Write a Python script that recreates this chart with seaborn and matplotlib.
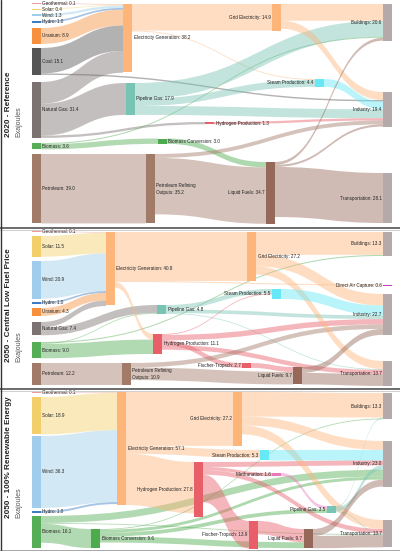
import matplotlib.pyplot as plt
from matplotlib.path import Path
from matplotlib.patches import PathPatch, Rectangle
import seaborn as sns

sns.set_style("white")
plt.rcParams['font.family'] = ['Liberation Sans', 'DejaVu Sans']

# ============================================
# DATA (exajoules)
# ============================================

# --- 2020 Reference ---
ref_nodes = ["Geothermal", "Solar", "Wind", "Hydro", "Uranium", "Coal", "Natural Gas",
             "Biomass", "Petroleum", "Electricity Generation", "Pipeline Gas",
             "Biomass Conversion", "Petroleum Refining", "Hydrogen Production",
             "Grid Electricity", "Steam Production", "Liquid Fuels",
             "Buildings", "Industry", "Transportation"]
ref_values = [0.1, 0.4, 1.3, 1.0, 8.9, 15.1, 31.4, 3.6, 39.0, 38.2, 17.9, 3.0, 35.2,
              1.3, 14.9, 4.4, 34.7, 20.6, 19.4, 28.1]
ref_src = ["Geothermal", "Solar", "Wind", "Hydro", "Uranium", "Coal", "Coal",
           "Natural Gas", "Natural Gas", "Natural Gas", "Biomass", "Biomass", "Petroleum",
           "Electricity Generation", "Electricity Generation", "Pipeline Gas", "Pipeline Gas",
           "Pipeline Gas", "Biomass Conversion", "Petroleum Refining", "Petroleum Refining",
           "Hydrogen Production", "Grid Electricity", "Grid Electricity", "Steam Production",
           "Liquid Fuels", "Liquid Fuels", "Liquid Fuels"]
ref_tgt = ["Electricity Generation", "Electricity Generation", "Electricity Generation",
           "Electricity Generation", "Electricity Generation", "Electricity Generation",
           "Industry", "Electricity Generation", "Pipeline Gas", "Hydrogen Production",
           "Biomass Conversion", "Buildings", "Petroleum Refining", "Grid Electricity",
           "Steam Production", "Buildings", "Steam Production", "Industry", "Liquid Fuels",
           "Liquid Fuels", "Industry", "Industry", "Buildings", "Industry", "Industry",
           "Buildings", "Industry", "Transportation"]
ref_flow = [0.1, 0.4, 1.3, 1.0, 8.9, 14.3, 0.8, 12.2, 17.9, 1.3, 3.0, 0.6, 39.0, 14.9,
            0.5, 9.0, 3.9, 5.0, 3.0, 31.7, 2.2, 1.3, 9.4, 4.5, 4.4, 1.6, 1.2, 28.1]

# --- 2050 Central Low Fuel Price ---
low_nodes = ["Geothermal", "Solar", "Wind", "Hydro", "Uranium", "Natural Gas", "Biomass",
             "Petroleum", "Electricity Generation", "Pipeline Gas", "Hydrogen Production",
             "Petroleum Refining", "Grid Electricity", "Steam Production", "Fischer-Tropsch",
             "Liquid Fuels", "Buildings", "Direct Air Capture", "Industry", "Transportation"]
low_values = [0.1, 11.5, 20.9, 1.0, 4.3, 7.4, 9.0, 12.2, 40.8, 4.8, 11.1, 10.9, 27.2,
              5.5, 2.7, 9.7, 13.3, 0.6, 22.7, 13.7]
low_src = ["Geothermal", "Solar", "Wind", "Hydro", "Uranium", "Natural Gas", "Natural Gas",
           "Biomass", "Biomass", "Biomass", "Petroleum", "Electricity Generation",
           "Electricity Generation", "Electricity Generation", "Pipeline Gas", "Pipeline Gas",
           "Pipeline Gas", "Hydrogen Production", "Hydrogen Production", "Hydrogen Production",
           "Hydrogen Production", "Petroleum Refining", "Petroleum Refining",
           "Grid Electricity", "Grid Electricity", "Grid Electricity", "Steam Production",
           "Fischer-Tropsch", "Liquid Fuels", "Liquid Fuels"]
low_tgt = ["Electricity Generation", "Electricity Generation", "Electricity Generation",
           "Electricity Generation", "Electricity Generation", "Electricity Generation",
           "Pipeline Gas", "Hydrogen Production", "Pipeline Gas", "Buildings",
           "Petroleum Refining", "Grid Electricity", "Direct Air Capture",
           "Hydrogen Production", "Steam Production", "Industry", "Transportation",
           "Steam Production", "Industry", "Fischer-Tropsch", "Transportation",
           "Liquid Fuels", "Industry", "Buildings", "Industry", "Transportation", "Industry",
           "Liquid Fuels", "Industry", "Transportation"]
low_flow = [0.1, 11.5, 20.9, 1.0, 4.3, 3.0, 4.4, 8.0, 0.4, 0.6, 12.2, 27.2, 0.6, 3.1,
            2.5, 2.0, 0.3, 0.5, 3.0, 2.7, 2.5, 7.0, 2.5, 12.7, 6.4, 4.5, 5.5, 2.7, 3.3, 6.4]

# --- 2050 100% Renewable Energy ---
ren_nodes = ["Geothermal", "Solar", "Wind", "Hydro", "Biomass", "Electricity Generation",
             "Biomass Conversion", "Hydrogen Production", "Grid Electricity",
             "Steam Production", "Methanation", "Pipeline Gas", "Fischer-Tropsch",
             "Liquid Fuels", "Buildings", "Industry", "Transportation"]
ren_values = [0.1, 18.9, 36.3, 1.0, 16.1, 57.1, 9.6, 27.8, 27.2, 5.3, 1.6, 3.5, 13.9,
              9.7, 13.3, 23.0, 13.7]
ren_src = ["Geothermal", "Solar", "Wind", "Hydro", "Biomass", "Biomass", "Biomass",
           "Electricity Generation", "Electricity Generation", "Electricity Generation",
           "Biomass Conversion", "Biomass Conversion", "Biomass Conversion",
           "Biomass Conversion", "Hydrogen Production", "Hydrogen Production",
           "Hydrogen Production", "Hydrogen Production", "Grid Electricity",
           "Grid Electricity", "Grid Electricity", "Steam Production", "Methanation",
           "Pipeline Gas", "Pipeline Gas", "Pipeline Gas", "Fischer-Tropsch",
           "Liquid Fuels", "Liquid Fuels"]
ren_tgt = ["Electricity Generation", "Electricity Generation", "Electricity Generation",
           "Electricity Generation", "Industry", "Biomass Conversion", "Transportation",
           "Grid Electricity", "Steam Production", "Hydrogen Production", "Buildings",
           "Industry", "Pipeline Gas", "Liquid Fuels", "Industry", "Methanation",
           "Transportation", "Fischer-Tropsch", "Buildings", "Industry", "Transportation",
           "Industry", "Pipeline Gas", "Buildings", "Industry", "Transportation",
           "Liquid Fuels", "Industry", "Transportation"]
ren_flow = [0.1, 18.9, 36.3, 1.0, 3.5, 9.6, 0.4, 27.2, 4.0, 25.9, 0.4, 1.5, 1.9, 3.0,
            2.5, 1.6, 2.3, 13.9, 12.4, 4.5, 4.5, 5.3, 1.6, 0.5, 2.2, 0.3, 6.7, 3.5, 6.2]

panel_titles = ["2020 - Reference", "2050 - Central Low Fuel Price",
                "2050 - 100% Renewable Energy"]
unit_label = "Exajoules"

# ============================================
# STYLE / LAYOUT (pixels)
# ============================================

node_colors = {
    "Geothermal": "#f09a9a", "Solar": "#f2cf6a", "Wind": "#9fcdeb", "Hydro": "#3e7cc4",
    "Uranium": "#f7913d", "Coal": "#555555", "Natural Gas": "#7d7272", "Biomass": "#55ad55",
    "Petroleum": "#a27a68", "Electricity Generation": "#fdb57a",
    "Grid Electricity": "#fdb57a", "Pipeline Gas": "#78c4b4", "Steam Production": "#66e8f7",
    "Hydrogen Production": "#e85e69", "Biomass Conversion": "#4dab4d",
    "Petroleum Refining": "#a27a68", "Liquid Fuels": "#95685a", "Fischer-Tropsch": "#e85e69",
    "Methanation": "#e67ab8", "Buildings": "#b5a9a9", "Industry": "#b5a9a9",
    "Transportation": "#b5a9a9", "Direct Air Capture": "#c43cc4",
}
display = {"Petroleum Refining": "Petroleum Refining\nOutputs"}

# name: (x, y_top, label side)
ref_layout = {
    "Geothermal": (32, 3, "r"), "Solar": (32, 8.5, "r"), "Wind": (32, 14, "r"),
    "Hydro": (32, 21, "r"), "Uranium": (32, 28, "r"), "Coal": (32, 48, "r"),
    "Natural Gas": (32, 82, "r"), "Biomass": (32, 143, "r"), "Petroleum": (32, 154, "r"),
    "Electricity Generation": (123, 4, "r"), "Pipeline Gas": (126, 83, "r"),
    "Biomass Conversion": (158, 138.5, "r"), "Petroleum Refining": (146, 154, "r"),
    "Hydrogen Production": (205, 122, "r"), "Grid Electricity": (272, 4, "l"),
    "Steam Production": (315, 79, "l"), "Liquid Fuels": (266, 162, "l"),
    "Buildings": (383, 4, "l"), "Industry": (383, 92, "l"), "Transportation": (383, 173, "l"),
}
low_layout = {
    "Geothermal": (32, 231, "r"), "Solar": (32, 236, "r"), "Wind": (32, 261, "r"),
    "Hydro": (32, 302, "r"), "Uranium": (32, 308, "r"), "Natural Gas": (32, 322, "r"),
    "Biomass": (32, 342, "r"), "Petroleum": (32, 363, "r"),
    "Electricity Generation": (106, 232, "r"), "Pipeline Gas": (157, 305, "r"),
    "Hydrogen Production": (153, 334, "r"), "Petroleum Refining": (122, 363, "r"),
    "Grid Electricity": (247, 232, "r"), "Steam Production": (272, 289, "l"),
    "Fischer-Tropsch": (242, 363, "l"), "Liquid Fuels": (293, 367, "l"),
    "Buildings": (383, 232, "l"), "Direct Air Capture": (383, 284.5, "l"),
    "Industry": (383, 294, "l"), "Transportation": (383, 361, "l"),
}
ren_layout = {
    "Geothermal": (32, 392, "r"), "Solar": (32, 397, "r"), "Wind": (32, 436, "r"),
    "Hydro": (32, 511, "r"), "Biomass": (32, 516, "r"),
    "Electricity Generation": (117, 392, "r"), "Biomass Conversion": (91, 529, "r"),
    "Hydrogen Production": (194, 462, "l"), "Grid Electricity": (233, 392, "l"),
    "Steam Production": (260, 450, "l"), "Methanation": (272, 473, "l"),
    "Pipeline Gas": (327, 506, "l"), "Fischer-Tropsch": (249, 521, "l"),
    "Liquid Fuels": (304, 529, "l"), "Buildings": (383, 393, "l"),
    "Industry": (383, 441, "l"), "Transportation": (383, 520, "l"),
}

NODE_W = 9
LINK_ALPHA = 0.45
LABEL_SIZE = 3.3


def draw_sankey(ax, names, values, src, tgt, flow, layout, scale):
    val = dict(zip(names, values))
    inflow = {n: 0.0 for n in names}
    outflow = {n: 0.0 for n in names}
    for s, t, f in zip(src, tgt, flow):
        outflow[s] += f
        inflow[t] += f
    height = {n: max(1.2, max(val[n], inflow[n], outflow[n]) * scale) for n in names}
    center = {n: layout[n][1] + height[n] / 2 for n in names}

    # stacking offsets: outgoing sorted by target centre, incoming by source centre
    links = list(zip(src, tgt, flow))
    y_out, y_in = {}, {}
    for n in names:
        off = layout[n][1]
        for i in sorted([i for i, l in enumerate(links) if l[0] == n],
                        key=lambda i: center[links[i][1]]):
            y_out[i] = off
            off += max(0.8, links[i][2] * scale)
        off = layout[n][1]
        for i in sorted([i for i, l in enumerate(links) if l[1] == n],
                        key=lambda i: center[links[i][0]]):
            y_in[i] = off
            off += max(0.8, links[i][2] * scale)

    for i, (s, t, f) in enumerate(links):
        th = max(0.8, f * scale)
        x0 = layout[s][0] + NODE_W
        x1 = layout[t][0]
        y0, y1 = y_out[i], y_in[i]
        xm = (x0 + x1) / 2
        verts = [(x0, y0), (xm, y0), (xm, y1), (x1, y1), (x1, y1 + th),
                 (xm, y1 + th), (xm, y0 + th), (x0, y0 + th), (x0, y0)]
        codes = [Path.MOVETO, Path.CURVE4, Path.CURVE4, Path.CURVE4, Path.LINETO,
                 Path.CURVE4, Path.CURVE4, Path.CURVE4, Path.CLOSEPOLY]
        ax.add_patch(PathPatch(Path(verts, codes), facecolor=node_colors[s],
                               alpha=LINK_ALPHA, edgecolor="none", zorder=1))

    for n in names:
        x, y, side = layout[n]
        ax.add_patch(Rectangle((x, y), NODE_W, height[n], facecolor=node_colors[n],
                               edgecolor="none", zorder=2))
        label = f"{display.get(n, n)}: {val[n]:.1f}"
        if side == "r":
            ax.text(x + NODE_W + 1.5, center[n], label, ha="left", va="center",
                    fontsize=LABEL_SIZE, color="#222222", zorder=3, linespacing=1.6)
        else:
            ax.text(x - 1.5, center[n], label, ha="right", va="center",
                    fontsize=LABEL_SIZE, color="#222222", zorder=3, linespacing=1.6)


fig = plt.figure(figsize=(4, 5.51), dpi=100)
ax = fig.add_axes([0, 0, 1, 1])
ax.set_xlim(0, 400)
ax.set_ylim(551, 0)
ax.axis("off")

draw_sankey(ax, ref_nodes, ref_values, ref_src, ref_tgt, ref_flow, ref_layout, 1.78)
draw_sankey(ax, low_nodes, low_values, low_src, low_tgt, low_flow, low_layout, 1.8)
draw_sankey(ax, ren_nodes, ren_values, ren_src, ren_tgt, ren_flow, ren_layout, 1.98)

# panel titles (rotated)
for title, y_base in zip(panel_titles, [137, 362, 518]):
    ax.text(9, y_base, title, rotation=90, rotation_mode="anchor", ha="left",
            va="center", fontsize=5.9, fontweight="bold", color="#222222")
    ax.text(18.5, y_base, unit_label, rotation=90, rotation_mode="anchor", ha="left",
            va="center", fontsize=5.0, color="#555555")

# separators and frame
for y in [228, 389]:
    ax.plot([0, 400], [y, y], color="#444444", lw=1.1, zorder=4)
    ax.plot([0, 400], [y + 2, y + 2], color="#bbbbbb", lw=0.5, zorder=4)
ax.plot([0, 400], [549.5, 549.5], color="#999999", lw=0.6, zorder=4)
ax.plot([0.5, 0.5], [0, 551], color="#333333", lw=1.0, zorder=4)

fig.savefig("out.png", dpi=100)
